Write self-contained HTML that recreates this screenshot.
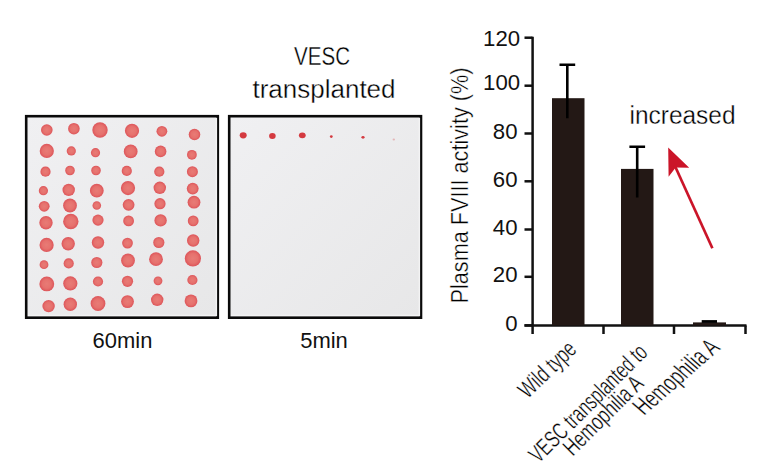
<!DOCTYPE html>
<html><head><meta charset="utf-8"><style>
html,body{margin:0;padding:0;background:#fff;}
svg{display:block;}
text{font-family:"Liberation Sans",sans-serif;fill:#111;}
.thin{stroke:#fff;stroke-width:0.35px;fill:#000;}
</style></head><body>
<svg width="768" height="476" viewBox="0 0 768 476">
<defs>
<linearGradient id="pg" x1="0" y1="0" x2="1" y2="1">
<stop offset="0" stop-color="#f0f0f2"/><stop offset="1" stop-color="#e7e7e8"/>
</linearGradient>
<radialGradient id="dg">
<stop offset="0" stop-color="#e87b76"/><stop offset="0.6" stop-color="#e6716d"/><stop offset="1" stop-color="#dd555a"/>
</radialGradient>
</defs>
<rect x="26.2" y="116.2" width="191.6" height="201.5" fill="url(#pg)" stroke="#0a0a0a" stroke-width="2.6"/>
<rect x="229.2" y="116.2" width="191.8" height="201.5" fill="url(#pg)" stroke="#0a0a0a" stroke-width="2.6"/>
<path d="M28 315.4 H216.4 V118 M231 315.4 H419.4 V118" stroke="#f3f3f4" stroke-width="1.4" fill="none"/>
<g fill="url(#dg)">
<circle cx="46.8" cy="130.0" r="5.8"/>
<circle cx="73.9" cy="128.7" r="5.8"/>
<circle cx="100" cy="130.0" r="7.7"/>
<circle cx="132" cy="130.8" r="7.1"/>
<circle cx="161.9" cy="131.3" r="5.4"/>
<circle cx="194.5" cy="134.5" r="5.8"/>
<circle cx="46.8" cy="150.9" r="7.1"/>
<circle cx="71.3" cy="150.9" r="4.6"/>
<circle cx="95.5" cy="152.7" r="4.6"/>
<circle cx="130.7" cy="151.4" r="6.9"/>
<circle cx="160.6" cy="151.4" r="5.8"/>
<circle cx="191.9" cy="154.8" r="4.9"/>
<circle cx="45.5" cy="171.7" r="5.1"/>
<circle cx="70" cy="170.5" r="4.8"/>
<circle cx="96" cy="170.5" r="4.8"/>
<circle cx="126.8" cy="170.9" r="5.1"/>
<circle cx="159.3" cy="171.7" r="5.1"/>
<circle cx="192.4" cy="171.7" r="5.5"/>
<circle cx="43.4" cy="190.7" r="4.6"/>
<circle cx="68.7" cy="189.9" r="6.2"/>
<circle cx="96.8" cy="190.7" r="6.9"/>
<circle cx="128" cy="188.1" r="7.1"/>
<circle cx="159.8" cy="187.8" r="6.2"/>
<circle cx="192.7" cy="188.6" r="5.9"/>
<circle cx="44.2" cy="206.3" r="5.4"/>
<circle cx="70" cy="205.5" r="6.9"/>
<circle cx="96.8" cy="205.5" r="4.3"/>
<circle cx="128.6" cy="204.8" r="5.9"/>
<circle cx="160" cy="203.7" r="5.6"/>
<circle cx="194" cy="202.2" r="6.4"/>
<circle cx="46" cy="222.7" r="6.7"/>
<circle cx="70.8" cy="221.5" r="7.7"/>
<circle cx="98" cy="220.1" r="5.6"/>
<circle cx="128.6" cy="220.9" r="5.4"/>
<circle cx="160.6" cy="220.4" r="6.2"/>
<circle cx="193.2" cy="220.9" r="5.4"/>
<circle cx="46.6" cy="244.9" r="7.1"/>
<circle cx="68.2" cy="243.8" r="6.7"/>
<circle cx="98" cy="242.5" r="6.2"/>
<circle cx="127.5" cy="243.1" r="5.4"/>
<circle cx="158.8" cy="242.5" r="5.6"/>
<circle cx="193.2" cy="240.5" r="6.2"/>
<circle cx="44" cy="264.7" r="4.4"/>
<circle cx="68.7" cy="263.4" r="5.1"/>
<circle cx="96.8" cy="262.5" r="5.6"/>
<circle cx="128" cy="260.5" r="6.9"/>
<circle cx="156" cy="259.2" r="6.9"/>
<circle cx="192.9" cy="258.4" r="8.1"/>
<circle cx="46.8" cy="283.9" r="7.4"/>
<circle cx="70.3" cy="283.4" r="7.1"/>
<circle cx="98" cy="281.5" r="5.1"/>
<circle cx="127.5" cy="281.3" r="5.6"/>
<circle cx="158" cy="280.8" r="4.4"/>
<circle cx="192.4" cy="280.0" r="5.1"/>
<circle cx="48.6" cy="306.1" r="6.2"/>
<circle cx="70.3" cy="304.2" r="6.7"/>
<circle cx="98" cy="303.5" r="7.4"/>
<circle cx="127.5" cy="301.6" r="6.4"/>
<circle cx="157.2" cy="299.8" r="6.2"/>
<circle cx="191" cy="300.9" r="6.4"/>
</g>
<g fill="#d43a40">
<ellipse cx="243.2" cy="135.3" rx="3.5" ry="3.1"/>
<ellipse cx="272.4" cy="136" rx="3.3" ry="3.0"/>
<ellipse cx="302.3" cy="135.3" rx="3.4" ry="2.9"/>
<ellipse cx="331.3" cy="136.6" rx="1.4" ry="1.3"/>
<ellipse cx="363" cy="137.3" rx="1.6" ry="1.4"/>
<ellipse cx="393.8" cy="139.4" rx="1.2" ry="1.0" opacity="0.3"/>
</g>
<text class="thin" x="322" y="65" font-size="26" text-anchor="middle" textLength="56" lengthAdjust="spacingAndGlyphs">VESC</text>
<text class="thin" x="324" y="98" font-size="26" text-anchor="middle" textLength="143" lengthAdjust="spacingAndGlyphs">transplanted</text>
<text x="92.6" y="347.8" font-size="21.8" textLength="59.8" lengthAdjust="spacingAndGlyphs">60min</text>
<text x="300.2" y="347.6" font-size="21.8" textLength="47.6" lengthAdjust="spacingAndGlyphs">5min</text>
<g stroke="#111" stroke-width="2.5" fill="none">
<path d="M532.6 36.7 V334"/>
<path d="M524.5 325.4 H746.5"/>
<path d="M524.5 325.4 H532.5"/><path d="M524.5 276.8 H532.5"/><path d="M524.5 229.5 H532.5"/><path d="M524.5 181.3 H532.5"/><path d="M524.5 133.5 H532.5"/><path d="M524.5 85.7 H532.5"/><path d="M524.5 37.7 H532.5"/>
<path d="M603.5 325.4 V334 M674 325.4 V334 M745.5 325.4 V334"/>
</g>
<rect x="552" y="98.2" width="32.5" height="227.2" fill="#231815"/>
<rect x="621" y="168.9" width="32.5" height="156.5" fill="#231815"/>
<rect x="693" y="322.4" width="33" height="3" fill="#231815"/>
<path d="M567.3 64.7 V118.2 M559.5 64.7 H575.2" stroke="#000" stroke-width="2.6" fill="none"/>
<path d="M637.2 146.8 V197.6 M629.4 146.8 H645.1" stroke="#000" stroke-width="2.6" fill="none"/>
<rect x="701.7" y="320.1" width="15.3" height="2.8" fill="#000"/>
<g font-size="22.2">
<text x="517.5" y="331.3" text-anchor="end">0</text><text x="517.5" y="282.3" text-anchor="end">20</text><text x="517.5" y="234.9" text-anchor="end">40</text><text x="517.5" y="186.7" text-anchor="end">60</text><text x="517.5" y="138.7" text-anchor="end">80</text><text x="520.1" y="90.2" text-anchor="end">100</text><text x="520.1" y="45.9" text-anchor="end">120</text>
</g>
<text class="thin" transform="translate(467.7,303.5) rotate(-90)" font-size="23" textLength="236" lengthAdjust="spacingAndGlyphs">Plasma FVIII activity (%)</text>
<text class="thin" x="629.5" y="124.3" font-size="26.7" textLength="106" lengthAdjust="spacingAndGlyphs">increased</text>
<path d="M668.2 147.6 L689.2 167.8 L675.7 167.5 L668.6 176.7 Z" fill="#cb1529"/>
<path d="M674.5 165 L712.4 248.3" stroke="#cb1529" stroke-width="2.7" fill="none"/>
<text class="thin" font-size="24" transform="translate(577.9,350.8) scale(1,1) rotate(-44)" text-anchor="end" textLength="70" lengthAdjust="spacingAndGlyphs">Wild type</text><text class="thin" font-size="24" transform="translate(648.9,353.8) scale(1,1) rotate(-45)" text-anchor="end" textLength="156" lengthAdjust="spacingAndGlyphs">VESC transplanted to</text><text class="thin" font-size="24" transform="translate(644.8,385.0) scale(1,1) rotate(-45)" text-anchor="end" textLength="102" lengthAdjust="spacingAndGlyphs">Hemophilia A</text><text class="thin" font-size="24" transform="translate(721.2,348.8) scale(1.15,1) rotate(-45)" text-anchor="end" textLength="95" lengthAdjust="spacingAndGlyphs">Hemophilia A</text>
</svg>
</body></html>
